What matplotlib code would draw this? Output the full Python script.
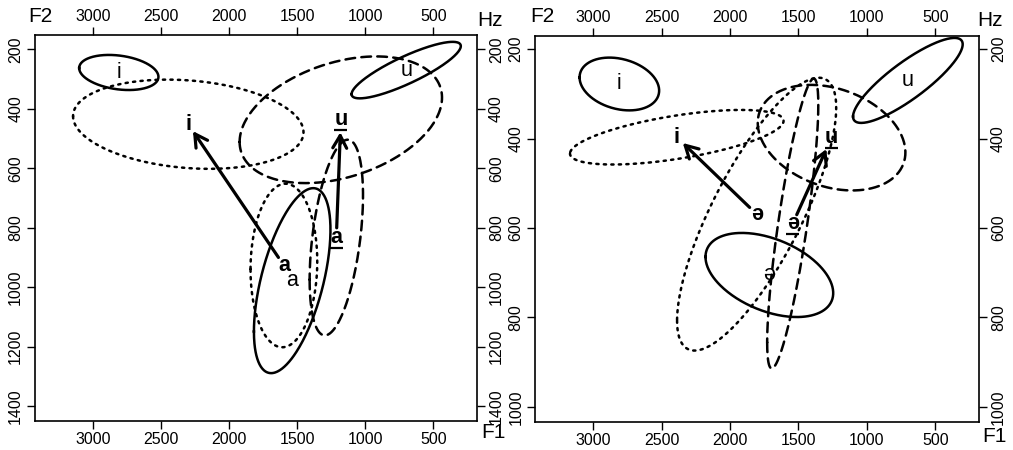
import numpy as np
import matplotlib
matplotlib.use('Agg')
import matplotlib.pyplot as plt
from matplotlib.transforms import ScaledTranslation

plt.rcParams['font.family'] = ['Liberation Sans', 'DejaVu Sans']
plt.rcParams['lines.scale_dashes'] = False

f2_ticks = [3000, 2500, 2000, 1500, 1000, 500]
left_f1_ticks = [200, 400, 600, 800, 1000, 1200, 1400]
right_f1_ticks = [200, 400, 600, 800, 1000]

# vowel ellipses: mean F2, mean F1, spread F2, spread F1, F2/F1 correlation
# group: ref = solid, A = dotted (bold label), B = dashed (bold underlined label)
left_vowels = ['i', 'u', 'a', 'i', 'a', 'u', 'a']
left_group = ['ref', 'ref', 'ref', 'A', 'A', 'B', 'B']
left_f2 = [2810, 700, 1537, 2300, 1598, 1180, 1213]
left_f1 = [278, 270, 978, 452, 927, 437, 833]
left_sd2 = [291, 401, 281, 846, 245, 743, 196]
left_sd1 = [59, 95, 311, 150, 275, 213, 329]
left_r = [-0.25, 0.85, 0.55, -0.18, 0.05, 0.35, 0.43]
left_arrows = [(4, 3), (6, 5)]

right_vowels = ['i', 'u', 'ə', 'i', 'ə', 'u', 'ə']
right_group = ['ref', 'ref', 'ref', 'A', 'A', 'B', 'B']
right_f2 = [2810, 700, 1713, 2390, 1806, 1258, 1542]
right_f1 = [278, 270, 705, 397, 569, 398, 590]
right_sd2 = [291, 401, 467, 781, 582, 540, 187]
right_sd1 = [59, 95, 94, 61, 305, 118, 324]
right_r = [-0.25, 0.85, -0.43, 0.6, 0.78, -0.28, 0.82]
right_arrows = [(4, 3), (6, 5)]

line_styles = {'ref': '-', 'A': (0, (1.6, 3.8)), 'B': (0, (7, 4.5))}

fig = plt.figure(figsize=(10.13, 4.5), dpi=100)
ax1 = fig.add_axes([0.0346, 0.0644, 0.4363, 0.8578])
ax2 = fig.add_axes([0.5284, 0.0629, 0.4380, 0.8578])


def draw_panel(ax, vowels, group, f2, f1, sd2, sd1, r, arrows, yticks, ylim):
    t = np.linspace(0, 2 * np.pi, 300)
    for k in range(len(vowels)):
        phi = np.arccos(r[k])
        x = f2[k] + sd2[k] * np.cos(t)
        y = f1[k] + sd1[k] * np.cos(t - phi)
        ax.plot(x, y, color='black', lw=1.8, linestyle=line_styles[group[k]],
                dash_capstyle='round')
        bold = group[k] != 'ref'
        ax.text(f2[k], f1[k], vowels[k], ha='center', va='center', fontsize=15.5,
                fontweight='bold' if bold else 'normal', zorder=5)
        if group[k] == 'B':
            tr = fig.dpi_scale_trans + ScaledTranslation(f2[k], f1[k], ax.transData)
            ax.plot([-0.065, 0.065], [-0.1, -0.1], color='black', lw=1.6,
                    transform=tr, solid_capstyle='butt')
    for a, b in arrows:
        ax.annotate('', xy=(f2[b], f1[b]), xytext=(f2[a], f1[a]),
                    arrowprops=dict(arrowstyle='->,head_length=0.45,head_width=0.25',
                                    lw=2.3, color='black', mutation_scale=20,
                                    shrinkA=7, shrinkB=6 if group[b] == 'A' else 9))
    ax.set_xlim(3425, 180)
    ax.set_ylim(*ylim)
    ax.set_xticks(f2_ticks)
    ax.set_yticks(yticks)
    ax.tick_params(axis='x', top=True, labeltop=True, bottom=True, labelbottom=True,
                   direction='out', length=5.5, width=1, labelsize=11.5, pad=2.5)
    ax.tick_params(axis='y', left=True, right=True, labelleft=True, labelright=True,
                   direction='out', length=5.5, width=1, labelsize=11.5, pad=3,
                   labelrotation=90)
    for tk in ax.yaxis.get_major_ticks():
        tk.label1.set_va('center')
        tk.label2.set_va('center')
    for sp in ax.spines.values():
        sp.set_linewidth(1.2)


draw_panel(ax1, left_vowels, left_group, left_f2, left_f1, left_sd2, left_sd1,
           left_r, left_arrows, left_f1_ticks, (1450, 152))
draw_panel(ax2, right_vowels, right_group, right_f2, right_f1, right_sd2, right_sd1,
           right_r, right_arrows, right_f1_ticks, (1033, 170))

# axis names
fig.text(40 / 1013, 1 - 17 / 450, 'F2', ha='center', va='center', fontsize=15)
fig.text(490 / 1013, 1 - 20 / 450, 'Hz', ha='center', va='center', fontsize=15)
fig.text(493 / 1013, 1 - 433 / 450, 'F1', ha='center', va='center', fontsize=15)
fig.text(542 / 1013, 1 - 17 / 450, 'F2', ha='center', va='center', fontsize=15)
fig.text(990 / 1013, 1 - 20 / 450, 'Hz', ha='center', va='center', fontsize=15)
fig.text(994 / 1013, 1 - 436 / 450, 'F1', ha='center', va='center', fontsize=15)

fig.savefig('out.png', dpi=100)
